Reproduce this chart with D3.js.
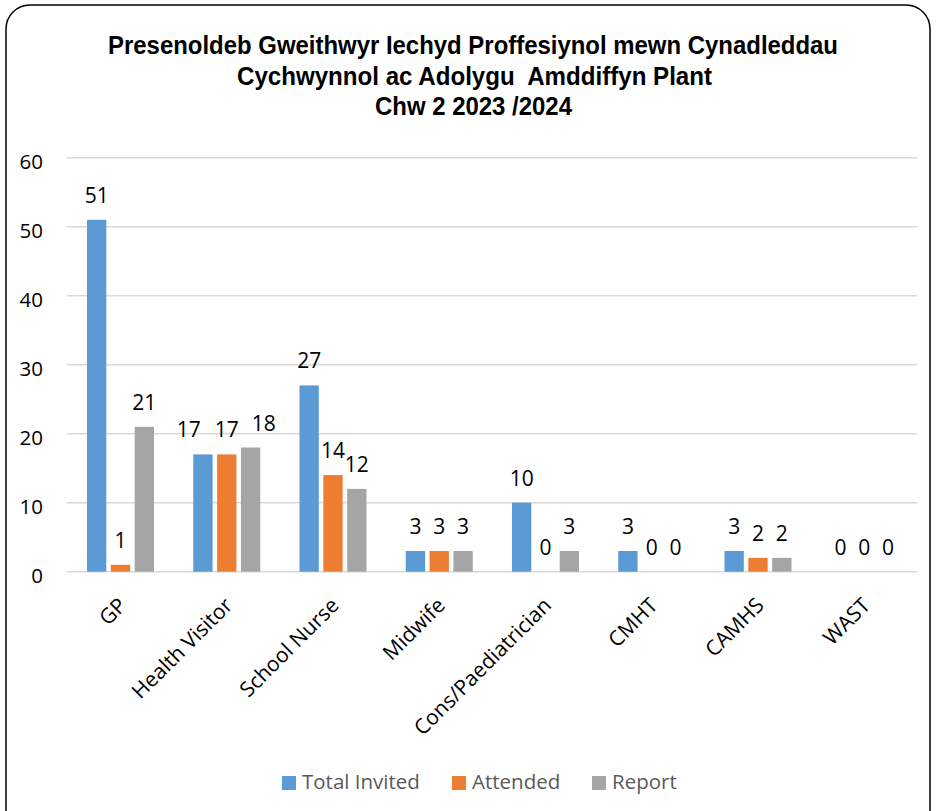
<!DOCTYPE html>
<html><head><meta charset="utf-8">
<script src="https://cdn.jsdelivr.net/npm/d3@7"></script>
<style>body{margin:0;background:#fff}</style>
</head><body><svg id="c" width="937" height="811"></svg>
<script>
const categories = ["GP","Health Visitor","School Nurse","Midwife","Cons/Paediatrician","CMHT","CAMHS","WAST"];
const seriesNames = ["Total Invited","Attended","Report"];
const totalInvited = [51,17,27,3,10,3,3,0];
const attended = [1,17,14,3,0,0,2,0];
const report = [21,18,12,3,3,0,2,0];
const yTicks = [0,10,20,30,40,50,60];
const titleLines = ["Presenoldeb Gweithwyr Iechyd Proffesiynol mewn Cynadleddau","Cychwynnol ac Adolygu  Amddiffyn Plant","Chw 2 2023 /2024"];
const colors = ["#5B9BD5","#ED7D31","#A5A5A5"];

const series = [totalInvited, attended, report];
const svg = d3.select("#c");
svg.append("rect").attr("x",6).attr("y",5).attr("width",924).attr("height",830)
  .attr("rx",24).attr("fill","#fff").attr("stroke","#000").attr("stroke-width",1.5);

const tf = "'Liberation Sans Narrow','Arial Narrow','Liberation Sans',Arial,sans-serif";
const titleW = [730,475,197];
const titleX = [473,474.5,473.5];
const titleY = [54,84.5,115];
svg.append("g").selectAll("text").data(titleLines).join("text")
  .attr("x",(d,i)=>titleX[i]).attr("y",(d,i)=>titleY[i]).attr("text-anchor","middle")
  .attr("font-family",tf).attr("font-weight","bold").attr("font-size",26).attr("fill","#000")
  .attr("textLength",(d,i)=>titleW[i]).attr("lengthAdjust","spacingAndGlyphs")
  .style("white-space","pre").text(d=>d);

const x0 = d3.scaleBand().domain(categories).range([67,917]);
const x1 = d3.scaleBand().domain(d3.range(3)).range([20,87]).paddingInner(0.19);
const y = d3.scaleLinear().domain([0,60]).range([571.7,157.7]);
const f = "'Open Sans','Noto Sans',sans-serif";

svg.append("g").selectAll("line").data(yTicks).join("line")
  .attr("x1",67).attr("x2",917).attr("y1",d=>y(d)).attr("y2",d=>y(d))
  .attr("stroke","#D9D9D9").attr("stroke-width",1.5);

const yAxis = svg.append("g").attr("transform","translate(67,0)")
  .call(d3.axisLeft(y).tickValues(yTicks).tickSize(0).tickPadding(24));
yAxis.select(".domain").remove();
yAxis.selectAll("text").attr("font-family",f).attr("font-size",20.5).attr("fill","#000")
  .attr("dy","0.55em");

const groups = svg.append("g").selectAll("g").data(categories).join("g")
  .attr("transform",d=>`translate(${x0(d)},0)`);
groups.each(function(cat,ci){
  const g = d3.select(this);
  const labels = [];
  series.forEach((s,si)=>{
    const v = s[ci];
    if (v>0) g.append("rect").attr("x",x1(si)).attr("width",x1.bandwidth())
      .attr("y",y(v)).attr("height",y(0)-y(v)).attr("fill",colors[si]);
    const t = g.append("text").attr("x",x1(si)+x1.bandwidth()/2).attr("y",y(v)-17)
      .attr("text-anchor","middle").attr("font-family",f).attr("font-size",21)
      .attr("fill","#000").text(v);
    labels.push({t, cx:x1(si)+x1.bandwidth()/2, cy:y(v)-17, w:t.node().getComputedTextLength()});
  });
  // spread colliding labels (same level, overlapping horizontally)
  let collide = false;
  for (let i=0;i<labels.length-1;i++){
    const a=labels[i], b=labels[i+1];
    if (Math.abs(a.cy-b.cy)<10 && (b.cx-a.cx) < (a.w+b.w)/2+4) collide = true;
  }
  if (collide){
    const mid = labels[1].cx;
    const sp = d3.max(labels,d=>d.w)+13;
    labels.forEach((l,i)=>l.t.attr("x", mid+(i-1)*sp + (i===0?-1:0)));
  }
});

const xAxis = svg.append("g").attr("transform","translate(0,571.7)")
  .call(d3.axisBottom(x0).tickSize(0).tickPadding(0));
xAxis.select(".domain").remove();
xAxis.selectAll("text").attr("font-family",f).attr("font-size",21).attr("fill","#000")
  .attr("text-anchor","end").attr("y",0).attr("dy",0)
  .attr("transform","translate(7.5,35) rotate(-45)");

const leg = svg.append("g");
const legX = [282,452,592];
seriesNames.forEach((n,i)=>{
  leg.append("rect").attr("x",legX[i]).attr("y",776).attr("width",14).attr("height",14).attr("fill",colors[i]);
  leg.append("text").attr("x",legX[i]+20).attr("y",789).attr("font-family",f).attr("font-size",20.5)
    .attr("fill","#595959").text(n);
});
</script></body></html>
